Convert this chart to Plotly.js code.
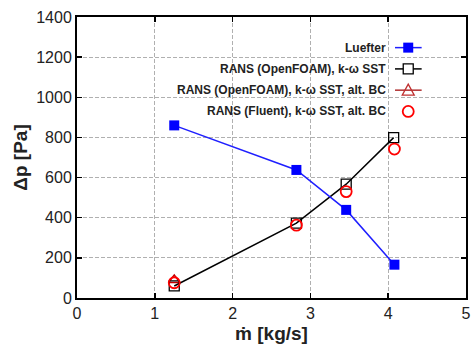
<!DOCTYPE html>
<html>
<head>
<meta charset="utf-8">
<script src="https://cdn.plot.ly/plotly-3.0.1.min.js"></script>
<style>html,body{margin:0;padding:0;background:#fff;}#chart{width:471px;height:345px;}</style>
</head>
<body>
<div id="chart"></div>
<script>
// ---- data ----
const seriesNames = ["Luefter", "RANS (OpenFOAM), k-\u03c9 SST", "RANS (OpenFOAM), k-\u03c9 SST, alt. BC", "RANS (Fluent), k-\u03c9 SST, alt. BC"];
const luefterX = [1.25, 2.82, 3.46, 4.08];
const luefterY = [860, 638, 439, 166];
const ofX = [1.25, 2.82, 3.46, 4.07];
const ofY = [60, 373, 567, 799];
const ofAltX = [1.25];
const ofAltY = [90];
const fluentX = [1.25, 2.82, 3.46, 4.08];
const fluentY = [76, 363, 530, 742];
const xTicks = [0, 1, 2, 3, 4, 5];
const yTicks = [0, 200, 400, 600, 800, 1000, 1200, 1400];

const font = "Liberation Sans, Arial, Helvetica, sans-serif";

const traces = [
  {x: ofAltX, y: ofAltY, mode: "lines+markers", name: seriesNames[2],
   line: {color: "#b03030", width: 1.5},
   marker: {symbol: "triangle-up-open", size: 10, color: "#c00000", line: {width: 1.5}}},
  {x: ofX, y: ofY, mode: "lines+markers", name: seriesNames[1],
   line: {color: "#000", width: 1.5},
   marker: {symbol: "square-open", size: 10, color: "#000", line: {width: 1.3}}},
  {x: luefterX, y: luefterY, mode: "lines+markers", name: seriesNames[0],
   line: {color: "#1f1fff", width: 1.5},
   marker: {symbol: "square", size: 10, color: "#0000ff"}},
  {x: fluentX, y: fluentY, mode: "markers", name: seriesNames[3],
   marker: {symbol: "circle-open", size: 11, color: "#ff0000", line: {width: 1.8}}}
];

// custom legend (text left of sample, like gnuplot)
const legRows = [
  {name: seriesNames[0], line: "#1f1fff", kind: "fsquare", col: "#0000ff"},
  {name: seriesNames[1], line: "#000", kind: "osquare", col: "#000"},
  {name: seriesNames[2], line: "#b03030", kind: "triangle", col: "#c03030"},
  {name: seriesNames[3], line: null, kind: "circle", col: "#ff0000"}
];
const legTextX = 0.7995, legSampleX0 = 0.8175, legSampleX1 = 0.886, legMarkX = 0.8515;
const legY0 = 0.891, legDy = 0.0757;
const annotations = [], shapes = [];
legRows.forEach((r, i) => {
  const y = legY0 - i * legDy;
  annotations.push({xref: "paper", yref: "paper", x: legTextX, y: y, xanchor: "right", yanchor: "middle",
    text: "<b>" + r.name + "</b>", showarrow: false, font: {family: font, size: 12, color: "#222"}});
  if (r.line) shapes.push({type: "line", xref: "paper", yref: "paper", x0: legSampleX0, x1: legSampleX1, y0: y, y1: y,
    line: {color: r.line, width: 1.5}});
  const base = {xref: "paper", yref: "paper", xsizemode: "pixel", ysizemode: "pixel", xanchor: legMarkX, yanchor: y};
  if (r.kind === "fsquare") shapes.push(Object.assign({type: "rect", x0: -5, x1: 5, y0: -5, y1: 5, fillcolor: r.col, line: {width: 0}}, base));
  if (r.kind === "osquare") shapes.push(Object.assign({type: "rect", x0: -5, x1: 5, y0: -5, y1: 5, fillcolor: "#fff", line: {color: r.col, width: 1.3}}, base));
  if (r.kind === "circle") shapes.push(Object.assign({type: "circle", x0: -5.5, x1: 5.5, y0: -5.5, y1: 5.5, line: {color: r.col, width: 1.8}}, base));
  if (r.kind === "triangle") shapes.push(Object.assign({type: "path", path: "M -6 -5 L 6 -5 L 0 6 Z", line: {color: r.col, width: 1.3}, fillcolor: "rgba(255,255,255,0)"}, base));
});

const axisCommon = {
  showline: true, linecolor: "#000", linewidth: 2, mirror: "allticks",
  ticks: "inside", ticklen: 5, tickwidth: 1.5, tickcolor: "#000",
  showgrid: true, gridcolor: "#b0b0b0", gridwidth: 1, griddash: "4px,2px",
  zeroline: false, tickfont: {family: font, size: 16, color: "#222"}
};

const layout = {
  width: 471, height: 345,
  margin: {l: 77, r: 5, t: 17, b: 47},
  paper_bgcolor: "#fff", plot_bgcolor: "#fff",
  showlegend: false,
  xaxis: Object.assign({}, axisCommon, {range: [0, 5], tickvals: xTicks, ticktext: xTicks.map(String),
    title: {text: "<b>\u1e41 [kg/s]</b>", font: {family: font, size: 19, color: "#222"}, standoff: 5}}),
  yaxis: Object.assign({}, axisCommon, {range: [0, 1400], tickvals: yTicks, ticktext: yTicks.map(String),
    title: {text: "<b>\u0394p [Pa]</b>", font: {family: font, size: 19, color: "#222"}, standoff: 4}}),
  annotations: annotations, shapes: shapes
};

Plotly.newPlot("chart", traces, layout, {staticPlot: true, displayModeBar: false});
</script>
</body>
</html>
